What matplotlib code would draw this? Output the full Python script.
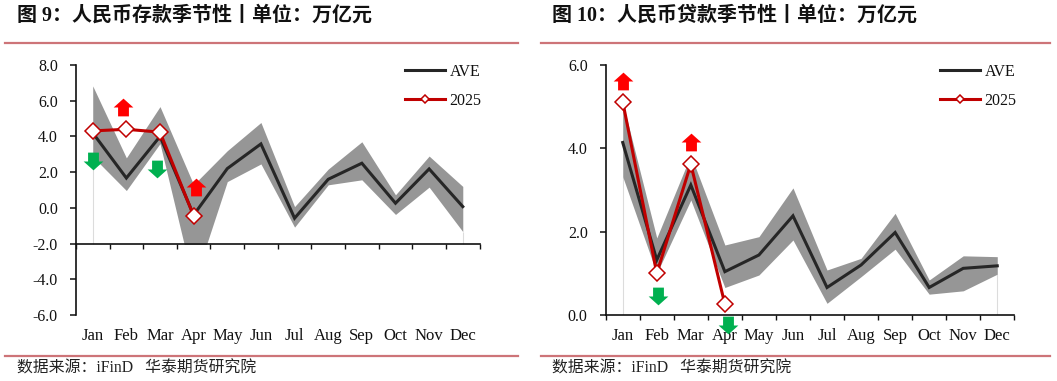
import numpy as np
import matplotlib
matplotlib.use('Agg')
import matplotlib.pyplot as plt
from matplotlib.lines import Line2D
from matplotlib.patches import Rectangle

plt.rcParams['font.family'] = ['Liberation Serif', 'Noto Sans CJK SC']

months = ['Jan', 'Feb', 'Mar', 'Apr', 'May', 'Jun', 'Jul', 'Aug', 'Sep', 'Oct', 'Nov', 'Dec']

dep_ave = [4.2, 1.67, 4.0, -0.4, 2.2, 3.58, -0.58, 1.6, 2.5, 0.26, 2.18, 0.07]
dep_upper = [6.83, 2.8, 5.67, 1.3, 3.2, 4.78, 0.07, 2.17, 3.7, 0.73, 2.9, 1.2]
dep_lower = [2.87, 0.97, 3.6, -4.25, 1.47, 2.46, -1.08, 1.29, 1.57, -0.37, 1.16, -1.33]
dep_2025 = [4.31, 4.4, 4.24, -0.45]
dep_up_x = [0.91, 3.07]
dep_up_y = [5.65, 1.19]
dep_down_x = [0.0, 1.9]
dep_down_y = [2.65, 2.2]

loan_ave = [4.14, 1.32, 3.12, 1.04, 1.44, 2.38, 0.66, 1.2, 1.98, 0.66, 1.12, 1.18]
loan_upper = [5.1, 1.85, 3.84, 1.68, 1.88, 3.05, 1.08, 1.36, 2.44, 0.84, 1.42, 1.4]
loan_lower = [3.32, 1.0, 2.76, 0.66, 0.96, 1.8, 0.28, 0.92, 1.58, 0.5, 0.58, 0.98]
loan_2025 = [5.12, 1.0, 3.62, 0.26]
loan_up_x = [0.0, 2.01]
loan_up_y = [5.62, 4.16]
loan_down_x = [1.04, 3.08]
loan_down_y = [0.45, -0.24]

W, H = 1057, 381
DARK = '#262626'
RED = '#c00000'
BAND = '#969696'
RULE = '#cd7478'

up_arrow = [(-1, 0), (0, 0.9), (1, 0), (0.55, 0), (0.55, -0.9), (-0.55, -0.9), (-0.55, 0)]
down_arrow = [(x, -y) for x, y in up_arrow]

fig = plt.figure(figsize=(W / 100, H / 100), dpi=100)


def draw_panel(left, right, ylim, yticks, floor, ave, upper, lower, cur,
               up_x, up_y, down_x, down_y, legend_x):
    ax = fig.add_axes([left / W, 1 - 315 / H, (right - left) / W, 250 / H])
    x = np.arange(12)
    ax.set_xlim(-0.5, 11.5)
    ax.set_ylim(*ylim)

    # the band stops at the horizontal axis
    band = ax.fill_between(x, lower, upper, color=BAND, lw=0, zorder=2)
    band.set_clip_path(Rectangle((-0.5, floor), 12, ylim[1] - floor, transform=ax.transData))
    ax.vlines([0, 11], floor, [lower[0], lower[11]], color='#dcdcdc', lw=0.8, zorder=1)

    ax.plot(x, ave, color=DARK, lw=2.2, zorder=3, solid_joinstyle='miter')
    ax.plot(x[:len(cur)], cur, color=RED, lw=2.2, marker='D', ms=8.4, mfc='white',
            mec=RED, mew=1.1, zorder=4, solid_joinstyle='miter')

    ax.plot(up_x, up_y, ls='', marker=up_arrow, ms=14.2, color='#ff0000', mew=0,
            zorder=5, clip_on=False)
    ax.plot(down_x, down_y, ls='', marker=down_arrow, ms=14.2, color='#00b050', mew=0,
            zorder=5, clip_on=False)

    for s in ['top', 'right']:
        ax.spines[s].set_visible(False)
    ax.spines['left'].set_linewidth(1.2)
    ax.spines['bottom'].set_linewidth(1.2)
    ax.spines['left'].set_color('#111111')
    ax.spines['bottom'].set_color('#111111')
    ax.spines['bottom'].set_position(('data', floor))

    ax.set_yticks(yticks)
    ax.set_yticklabels([f'{v:.1f}' for v in yticks], fontsize=11.5, color='#111111')
    ax.tick_params(axis='y', length=4, width=1.1, pad=9, color='#111111')
    ax.set_xticks(np.arange(13) - 0.5)
    ax.set_xticklabels([])
    ax.tick_params(axis='x', which='major', length=3.5, width=1.0, direction='out', color='#111111')
    ax.set_xticks(x, minor=True)
    pad = (327.5 - (315 - (floor - ylim[0]) / (ylim[1] - ylim[0]) * 250)) * 0.72
    ax.set_xticklabels(months, minor=True, fontsize=12, color='#111111')
    ax.tick_params(axis='x', which='minor', length=0, pad=pad)

    handles = [
        Line2D([], [], color=DARK, lw=2.2),
        Line2D([], [], color=RED, lw=2.2, marker='D', ms=4.5, mfc='white', mec=RED, mew=1.1),
    ]
    ax.legend(handles, ['AVE', '2025'], loc='upper left', frameon=False, fontsize=11.5,
              bbox_to_anchor=((legend_x - left) / (right - left), 1.005), borderpad=0, borderaxespad=0,
              handlelength=2.5, handletextpad=0.3, labelspacing=0.8, labelcolor='#111111')
    return ax


draw_panel(75.9, 479.6, (-6, 8), [-6, -4, -2, 0, 2, 4, 6, 8], -2,
           dep_ave, dep_upper, dep_lower, dep_2025,
           dep_up_x, dep_up_y, dep_down_x, dep_down_y, 405)
draw_panel(605.7, 1014.3, (0, 6), [0, 2, 4, 6], 0,
           loan_ave, loan_upper, loan_lower, loan_2025,
           loan_up_x, loan_up_y, loan_down_x, loan_down_y, 940)

for x0, x1, title, title_x in [(5, 518, '图 9：人民币存款季节性丨单位：万亿元', 17),
                               (541, 1050, '图 10：人民币贷款季节性丨单位：万亿元', 552)]:
    fig.text(title_x / W, 1 - 16 / H, title, fontsize=14.4, fontweight='bold', va='center', color='#111111')
    for y in [42.7, 356]:
        fig.add_artist(Line2D([x0 / W, x1 / W], [1 - y / H, 1 - y / H], color=RULE, lw=1.6))
    fig.text(title_x / W, 1 - 369 / H, '数据来源：iFinD   华泰期货研究院', fontsize=11.4, va='center', color='#222222')

fig.savefig('out.png', dpi=100)
